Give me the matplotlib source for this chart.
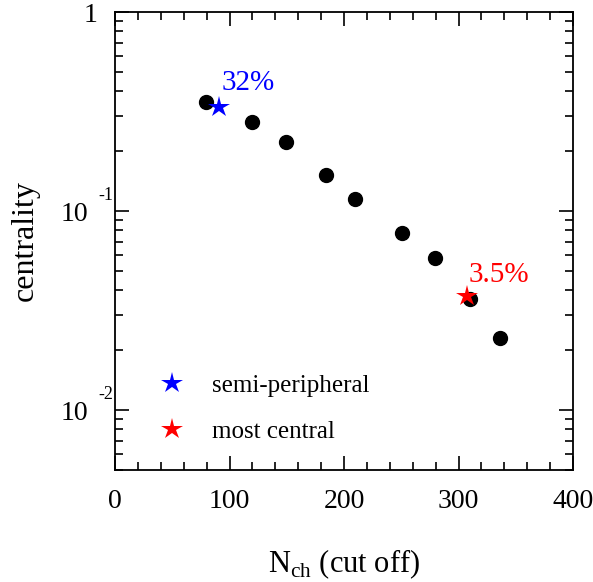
import numpy as np
import matplotlib
matplotlib.use("Agg")
import matplotlib.pyplot as plt
from matplotlib.ticker import FixedLocator, MultipleLocator, LogLocator, NullFormatter
from matplotlib.lines import Line2D

plt.rcParams['font.family'] = ['Liberation Serif', 'DejaVu Serif']
plt.rcParams['mathtext.fontset'] = 'custom'
plt.rcParams['mathtext.rm'] = 'Liberation Serif'

# centrality vs N_ch cut off
nch = [79.5, 119.7, 149.3, 184.3, 209.6, 250.7, 279.5, 310, 336]
centrality = [0.353, 0.28, 0.222, 0.152, 0.115, 0.0775, 0.058, 0.0361, 0.023]

# highlighted points
semi_x, semi_y = 90.8, 0.333
central_x, central_y = 307.4, 0.0374

# y decades with labels
ydecades = [0.01, 0.1, 1]

fig = plt.figure(figsize=(5.93, 5.82), dpi=100)
ax = fig.add_axes([115/593, 1 - 470/582, 458/593, 458/582])

ax.plot(nch, centrality, 'o', color='black', markersize=10)
ax.plot(semi_x, semi_y, '*', color='blue', markersize=16, markeredgewidth=0)
ax.plot(central_x, central_y, '*', color='red', markersize=16, markeredgewidth=0)
ax.text(semi_x + 2, semi_y * 1.14, "32%", color='blue', fontsize=21, va='bottom')
ax.text(central_x + 1, central_y * 1.1, "3.5%", color='red', fontsize=21, va='bottom')

ax.set_yscale('log')
ax.set_xlim(0, 400)
ax.set_ylim(0.005, 1)

ax.xaxis.set_major_locator(MultipleLocator(100))
ax.xaxis.set_minor_locator(MultipleLocator(20))
ax.yaxis.set_major_locator(FixedLocator(ydecades))
ax.yaxis.set_minor_locator(LogLocator(base=10, subs=np.arange(2, 10)))
ax.yaxis.set_major_formatter(NullFormatter())
ax.yaxis.set_minor_formatter(NullFormatter())

# y tick labels written as 10 with a small raised exponent
ytr = ax.get_yaxis_transform()
for v in ydecades:
    e = int(round(np.log10(v)))
    if e == 0:
        ax.annotate("1", xy=(-0.039, v), xycoords=ytr, ha='right', va='center_baseline',
                    fontsize=20, annotation_clip=False)
    else:
        ax.annotate("10", xy=(-0.059, v), xycoords=ytr, ha='right', va='center_baseline',
                    fontsize=20, annotation_clip=False)
        ax.annotate("-%d" % abs(e), xy=(-0.037, v), xycoords=ytr, xytext=(0, 8),
                    textcoords='offset points', ha='left', va='baseline',
                    fontsize=13, annotation_clip=False)

ax.tick_params(which='both', direction='in', top=True, right=True, labelsize=20, width=1.2)
ax.tick_params(which='major', length=10)
ax.tick_params(axis='x', which='major', pad=14)
ax.tick_params(which='minor', length=6)
for s in ax.spines.values():
    s.set_linewidth(1.3)

ax.set_xlabel(r"N$_{\mathregular{ch}}$ (cut off)", fontsize=22, labelpad=24)
ax.set_ylabel("centrality", fontsize=23)
ax.yaxis.set_label_coords(-0.165, 0.5)

handles = [Line2D([], [], marker='*', color='blue', linestyle='none', markersize=16, markeredgewidth=0),
           Line2D([], [], marker='*', color='red', linestyle='none', markersize=16, markeredgewidth=0)]
ax.legend(handles, ["semi-peripheral", "most central"], loc='lower left',
          bbox_to_anchor=(0.02, 0.01), frameon=False, fontsize=18,
          handletextpad=0.6, labelspacing=0.95)

fig.savefig("out.png", dpi=100)
